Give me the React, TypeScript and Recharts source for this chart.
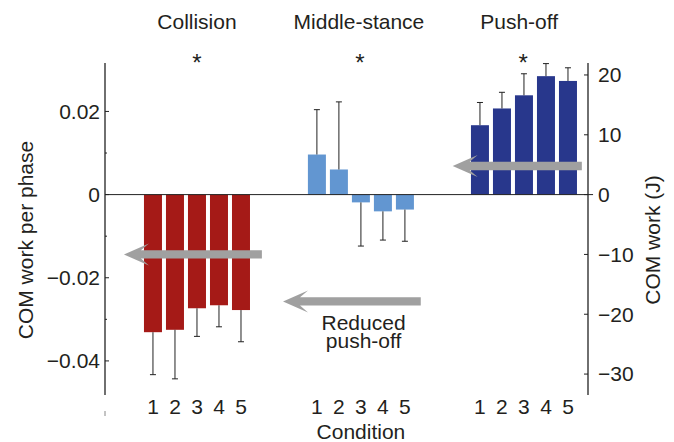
import { ComposedChart, Bar, Cell, XAxis, YAxis, ReferenceLine, ReferenceDot } from "recharts";

// mean COM work per phase (J), one value per condition 1..5, with one-sided SD
const phases = ["Collision", "Middle-stance", "Push-off"];
const conditions = [1, 2, 3, 4, 5];
const collisionWork = [-23.0, -22.6, -19.0, -18.5, -19.3];
const collisionSd = [7.1, 8.2, 4.7, 3.6, 5.3];
const midstanceWork = [6.7, 4.2, -1.3, -2.8, -2.5];
const midstanceSd = [7.5, 11.3, 7.3, 4.8, 5.3];
const pushoffWork = [11.6, 14.4, 16.6, 19.8, 19.0];
const pushoffSd = [3.8, 2.7, 3.6, 2.1, 2.2];
const leftTicks = [0.02, 0.01, 0, -0.01, -0.02, -0.03, -0.04];
const rightTicks = [20, 10, 0, -10, -20, -30];

// layout
const GROUP_START = [1, 8.45, 15.86];
const TITLE_X = [3, 10.36, 17.64];
const X_DOMAIN = [-1.18, 20.77];
const J_DOMAIN = [-33.5, 22];
const PHASE_DOMAIN = [-0.0482, (0.0482 * 22) / 33.5];
const COLORS = ["#a51a17", "#6296d1", "#28378c"];
const INK = "#231f20";
const FONT = "'Liberation Sans', Arial, sans-serif";

const works = [collisionWork, midstanceWork, pushoffWork];
const sds = [collisionSd, midstanceSd, pushoffSd];

const rows = phases.flatMap((phase, g) =>
  conditions.map((c, i) => ({
    pos: GROUP_START[g] + i,
    cond: c,
    phase,
    group: g,
    work: works[g][i],
    sd: sds[g][i],
  }))
);

const xTicks = [X_DOMAIN[0], ...rows.map((r) => r.pos)];

const arrows = [
  { from: 5.95, to: -0.32, y: -10 },
  { from: 13.17, to: 6.91, y: -17.85 },
  { from: 20.49, to: 14.62, y: 4.78 },
];

const notes = [
  { x: TITLE_X[0], y: 28.86, text: "Collision", size: 21 },
  { x: TITLE_X[1], y: 28.86, text: "Middle-stance", size: 21 },
  { x: TITLE_X[2], y: 28.86, text: "Push-off", size: 21 },
  { x: 10.57, y: -21.35, text: "Reduced", size: 21 },
  { x: 10.57, y: -24.45, text: "push-off", size: 21 },
  { x: 10.45, y: -39.55, text: "Condition", size: 21 },
];

const stars = [
  { x: GROUP_START[0] + 2, y: 20.7 },
  { x: GROUP_START[1] + 1.96, y: 20.7 },
  { x: GROUP_START[2] + 1.96, y: 20.7 },
];

const BarWithError = (props: any) => {
  const { x, y, width, height, fill, payload } = props;
  const h = Math.abs(height);
  const top = Math.min(y, y + height);
  const pxPerUnit = h / Math.abs(payload.work);
  const e = payload.sd * pxPerUnit;
  const cx = x + width / 2;
  const start = payload.work >= 0 ? top : top + h;
  const end = payload.work >= 0 ? start - e : start + e;
  return (
    <g>
      <rect x={x} y={top} width={width} height={h} fill={fill} />
      <line x1={cx} x2={cx} y1={start} y2={end} stroke="#222" strokeWidth={1} />
      <line x1={cx - 3} x2={cx + 3} y1={end} y2={end} stroke="#222" strokeWidth={1} />
    </g>
  );
};

const ConditionTick = ({ x, y, index }: any) => {
  if (index === 0)
    return <line x1={x} x2={x} y1={y + 16} y2={y + 21} stroke="#888" strokeWidth={1} />;
  const row = rows[index - 1];
  return (
    <text x={x} y={y + 19} textAnchor="middle" fontSize={21} fontFamily={FONT} fill={INK}>
      {row.cond}
    </text>
  );
};

const fmtPhase = (v: number) =>
  v === 0 ? "0" : (v < 0 ? "\u2212" : "") + Math.abs(v).toFixed(2);

const PhaseTick = ({ x, y, payload }: any) => {
  const v = payload.value;
  const major = Math.abs(Math.round(v * 100)) % 2 === 0;
  return (
    <g>
      <line x1={x} x2={x + (major ? 4 : 2)} y1={y} y2={y} stroke="#222" strokeWidth={1} />
      {major && (
        <text x={x - 5} y={y} dy="0.35em" textAnchor="end" fontSize={21} fontFamily={FONT} fill={INK}>
          {fmtPhase(v)}
        </text>
      )}
    </g>
  );
};

const JouleTick = ({ x, y, payload }: any) => {
  const v = payload.value;
  return (
    <g>
      <line x1={x - 4} x2={x} y1={y} y2={y} stroke="#222" strokeWidth={1} />
      <text x={x + 10} y={y} dy="0.35em" textAnchor="start" fontSize={21} fontFamily={FONT} fill={INK}>
        {(v < 0 ? "\u2212" : "") + Math.abs(v)}
      </text>
    </g>
  );
};

const ArrowShape = (p: any) => {
  const { x1, y1, x2 } = p;
  const L = 25, H = 11, N = 17, t = 4.2;
  const pts = [
    [x2, y1],
    [x2 + L, y1 - H],
    [x2 + N, y1 - t],
    [x1, y1 - t],
    [x1, y1 + t],
    [x2 + N, y1 + t],
    [x2 + L, y1 + H],
  ]
    .map((q) => q.join(","))
    .join(" ");
  return <polygon points={pts} fill="#a0a0a0" />;
};

const rotatedLabel = (text: string, x: number, y: number) => () =>
  (
    <text
      x={x}
      y={y}
      dy="0.35em"
      transform={`rotate(-90 ${x} ${y})`}
      textAnchor="middle"
      fontSize={21}
      fontFamily={FONT}
      fill={INK}
    >
      {text}
    </text>
  );

export default function App() {
  return (
    <div style={{ position: "absolute", left: 0, top: 0, width: 674, height: 442, background: "#fff" }}>
      <ComposedChart
        width={674}
        height={442}
        data={rows}
        margin={{ top: 63, right: 0, bottom: 0, left: 0 }}
        style={{ fontFamily: FONT }}
      >
        <XAxis
          dataKey="pos"
          type="number"
          domain={X_DOMAIN}
          ticks={xTicks}
          interval={0}
          allowDataOverflow
          axisLine={false}
          tickLine={false}
          tickSize={0}
          tickMargin={0}
          height={47}
          tick={<ConditionTick />}
        />
        <YAxis
          yAxisId="phase"
          orientation="left"
          domain={PHASE_DOMAIN}
          ticks={leftTicks}
          interval={0}
          allowDataOverflow
          width={105}
          axisLine={{ stroke: "#222", strokeWidth: 1.3 }}
          tickLine={false}
          tickSize={0}
          tickMargin={0}
          tick={<PhaseTick />}
          label={{ content: rotatedLabel("COM work per phase", 26, 240) }}
        />
        <YAxis
          yAxisId="J"
          orientation="right"
          domain={J_DOMAIN}
          ticks={rightTicks}
          interval={0}
          allowDataOverflow
          width={86}
          axisLine={{ stroke: "#222", strokeWidth: 1.3 }}
          tickLine={false}
          tickSize={0}
          tickMargin={0}
          tick={<JouleTick />}
          label={{ content: rotatedLabel("COM work (J)", 653, 240) }}
        />
        <ReferenceLine
          yAxisId="J"
          segment={[
            { x: X_DOMAIN[0], y: 0 },
            { x: X_DOMAIN[1] + 0.23, y: 0 },
          ]}
          ifOverflow="visible"
          stroke="#222"
          strokeWidth={1}
        />
        <Bar
          yAxisId="J"
          dataKey="work"
          barSize={18}
          isAnimationActive={false}
          shape={BarWithError}
        >
          {rows.map((r, i) => (
            <Cell key={i} fill={COLORS[r.group]} />
          ))}
        </Bar>
        {arrows.map((a, i) => (
          <ReferenceLine
            key={`arrow-${i}`}
            yAxisId="J"
            segment={[
              { x: a.from, y: a.y },
              { x: a.to, y: a.y },
            ]}
            ifOverflow="visible"
            shape={ArrowShape}
          />
        ))}
        {notes.map((n, i) => (
          <ReferenceDot
            key={`note-${i}`}
            yAxisId="J"
            x={n.x}
            y={n.y}
            r={1}
            ifOverflow="visible"
            shape={(p: any) => (
              <text x={p.cx} y={p.cy} dy="0.35em" textAnchor="middle" fontSize={n.size} fontFamily={FONT} fill={INK}>
                {n.text}
              </text>
            )}
          />
        ))}
        {stars.map((s, i) => (
          <ReferenceDot
            key={`star-${i}`}
            yAxisId="J"
            x={s.x}
            y={s.y}
            r={1}
            ifOverflow="visible"
            shape={(p: any) => (
              <text x={p.cx} y={p.cy} textAnchor="middle" fontSize={24} fontFamily={FONT} fill={INK}>
                *
              </text>
            )}
          />
        ))}
      </ComposedChart>
    </div>
  );
}
